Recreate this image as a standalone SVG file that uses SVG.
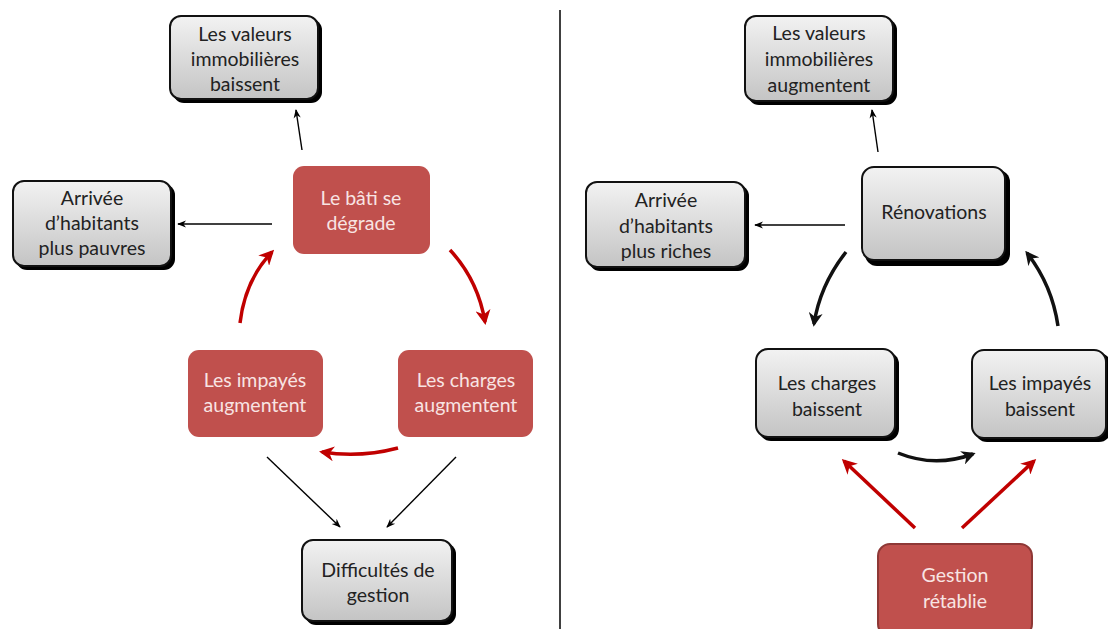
<svg xmlns="http://www.w3.org/2000/svg" width="1108" height="629" viewBox="0 0 1108 629">
<defs>
<linearGradient id="g" x1="0" y1="0" x2="0" y2="1">
<stop offset="0" stop-color="#f2f2f2"/>
<stop offset="1" stop-color="#c4c4c4"/>
</linearGradient>
<marker id="ab" viewBox="0 0 10 10" refX="9" refY="5" markerWidth="9" markerHeight="9" orient="auto" markerUnits="userSpaceOnUse">
<path d="M0,1 L10,5 L0,9 L3,5 Z" fill="#000"/>
</marker>
<marker id="abk" viewBox="0 0 10 10" refX="8" refY="5" markerWidth="14" markerHeight="14" orient="auto" markerUnits="userSpaceOnUse">
<path d="M0,0 L10,5 L0,10 L3,5 Z" fill="#111"/>
</marker>
<marker id="ar" viewBox="0 0 10 10" refX="8" refY="5" markerWidth="15" markerHeight="15" orient="auto" markerUnits="userSpaceOnUse">
<path d="M0,0 L10,5 L0,10 L3,5 Z" fill="#c00000"/>
</marker>
</defs>
<style>
.gray rect.sh{fill:#000}
.gray rect.bx{fill:url(#g);stroke:#111;stroke-width:2}
.red rect{fill:#c0504d}
text{font-family:"Lato","Liberation Sans",sans-serif;font-size:19.5px;text-anchor:middle}
.gray text{fill:#222}
.red text{fill:#f8e4e3}
.thin{stroke:#000;stroke-width:1.4;fill:none;marker-end:url(#ab)}
.blk{stroke:#111;stroke-width:3.5;fill:none;marker-end:url(#abk)}
.rd{stroke:#c00000;stroke-width:3.5;fill:none;marker-end:url(#ar)}
</style>
<rect width="1108" height="629" fill="#fff"/>
<line x1="560" y1="10" x2="560" y2="629" stroke="#000" stroke-width="1.5"/>

<g id="connectors">
<line class="thin" x1="302" y1="150" x2="296" y2="110"/>
<line class="thin" x1="272" y1="224" x2="178" y2="224"/>
<path class="rd" d="M240,323 Q245,280 272,252"/>
<path class="rd" d="M450,250 Q478,280 485,322"/>
<path class="rd" d="M398,448 Q360,458 322,452"/>
<line class="thin" x1="267" y1="457" x2="340" y2="527"/>
<line class="thin" x1="456" y1="457" x2="387" y2="527"/>
<line class="thin" x1="878" y1="152" x2="872" y2="110"/>
<line class="thin" x1="845" y1="225" x2="755" y2="225"/>
<path class="blk" d="M846,252 Q820,285 814,324"/>
<path class="blk" d="M1058,326 Q1052,285 1027,253"/>
<path class="blk" d="M898,453 Q935,468 973,454"/>
<line class="rd" x1="915" y1="528" x2="844" y2="461"/>
<line class="rd" x1="962" y1="528" x2="1034" y2="461"/>
</g>

<g id="n1" class="gray"><rect class="sh" x="173" y="19" width="149" height="84" rx="11"/><rect class="bx" x="170" y="16" width="148" height="83" rx="11"/>
<text x="245" y="41">Les valeurs</text><text x="245" y="66">immobilières</text><text x="245" y="91">baissent</text></g>
<g id="n2" class="gray"><rect class="sh" x="16" y="184" width="159" height="86" rx="11"/><rect class="bx" x="13" y="181" width="158" height="85" rx="11"/>
<text x="92" y="205">Arrivée</text><text x="92" y="230">d’habitants</text><text x="92" y="255">plus pauvres</text></g>
<g id="n3" class="red"><rect x="293" y="166" width="137" height="88" rx="11"/>
<text x="361" y="205">Le bâti se</text><text x="361" y="230">dégrade</text></g>
<g id="n4" class="red"><rect x="188" y="350" width="135" height="87" rx="11"/>
<text x="255" y="387">Les impayés</text><text x="255" y="412">augmentent</text></g>
<g id="n5" class="red"><rect x="398" y="350" width="135" height="87" rx="11"/>
<text x="466" y="387">Les charges</text><text x="466" y="412">augmentent</text></g>
<g id="n6" class="gray"><rect class="sh" x="305" y="543" width="151" height="82" rx="11"/><rect class="bx" x="302" y="540" width="150" height="81" rx="11"/>
<text x="378" y="577">Difficultés de</text><text x="378" y="602">gestion</text></g>

<g id="n7" class="gray"><rect class="sh" x="748" y="19" width="149" height="86" rx="11"/><rect class="bx" x="745" y="16" width="148" height="85" rx="11"/>
<text x="819" y="40">Les valeurs</text><text x="819" y="66">immobilières</text><text x="819" y="92">augmentent</text></g>
<g id="n8" class="gray"><rect class="sh" x="589" y="185" width="160" height="86" rx="11"/><rect class="bx" x="586" y="182" width="159" height="85" rx="11"/>
<text x="666" y="207">Arrivée</text><text x="666" y="233">d’habitants</text><text x="666" y="258">plus riches</text></g>
<g id="n9" class="gray"><rect class="sh" x="865" y="170" width="145" height="96" rx="12"/><rect class="bx" x="862" y="167" width="143" height="93" rx="12"/>
<text x="934" y="219">Rénovations</text></g>
<g id="n10" class="gray"><rect class="sh" x="759" y="352" width="140" height="89" rx="12"/><rect class="bx" x="756" y="349" width="139" height="88" rx="12"/>
<text x="827" y="390">Les charges</text><text x="827" y="416">baissent</text></g>
<g id="n11" class="gray"><rect class="sh" x="975" y="353" width="136" height="89" rx="12"/><rect class="bx" x="972" y="350" width="134" height="88" rx="12"/>
<text x="1040" y="390">Les impayés</text><text x="1040" y="416">baissent</text></g>
<g id="n12" class="red"><rect x="878" y="544" width="154" height="92" rx="12" stroke="#8e3836" stroke-width="2"/>
<text x="955" y="582">Gestion</text><text x="955" y="608">rétablie</text></g>
</svg>
